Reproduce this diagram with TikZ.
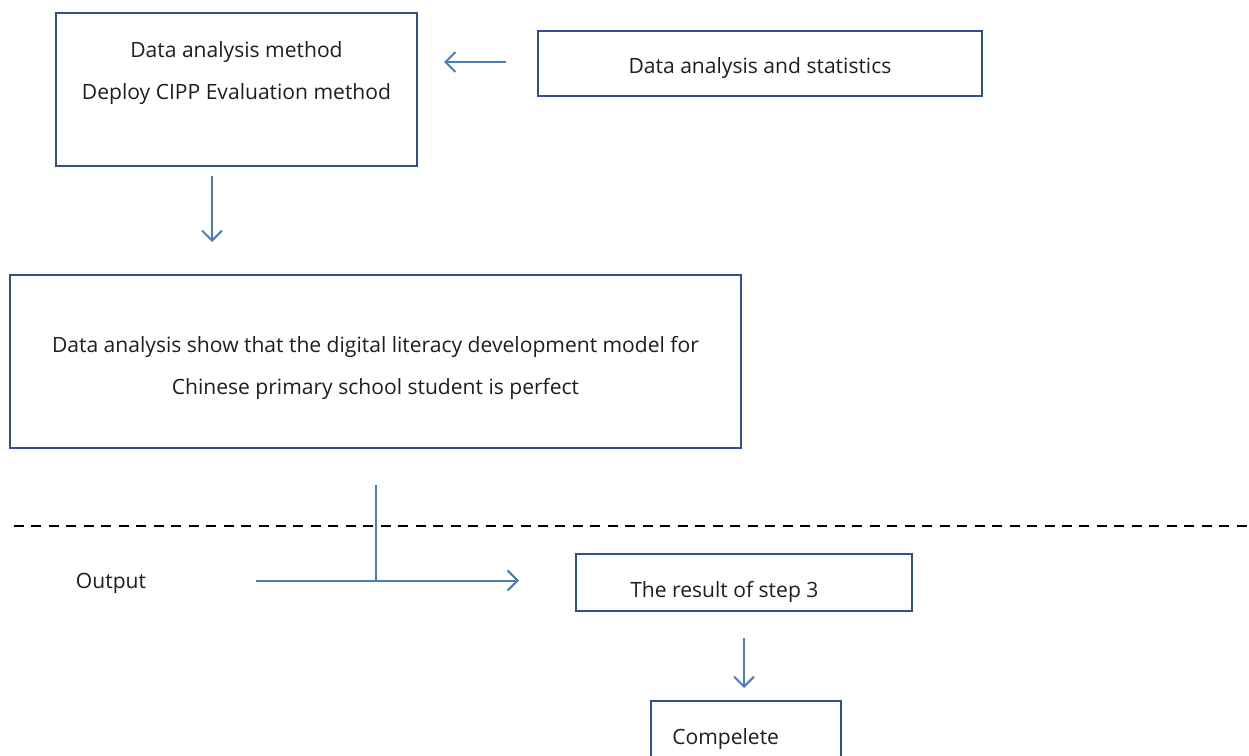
\documentclass[tikz,border=0pt]{standalone}
\usepackage{fontspec}
\setmainfont{Open Sans}
\usetikzlibrary{arrows.meta}
\newlength\pu
\setlength\pu{0.75pt}
\definecolor{boxline}{RGB}{47,82,143}
\definecolor{arrowline}{RGB}{74,126,187}
\definecolor{txt}{RGB}{30,30,30}
\tikzset{
  stepbox/.style={draw=boxline, line width=1.9pt, rectangle, inner sep=0pt},
  flow/.style={draw=arrowline, line width=1.5pt,
    -{Straight Barb[length=7.5pt,width=15pt,line width=1.5pt]}},
  plainflow/.style={draw=arrowline, line width=1.5pt},
  lbl/.style={text=txt, font=\fontsize{15.8pt}{31.5pt}\selectfont, inner sep=0pt}
}
\begin{document}
\begin{tikzpicture}[x=\pu,y=-\pu]
\useasboundingbox (0,0) rectangle (1249,756);
\clip (0,0) rectangle (1249,756);

% method box
\node[stepbox, minimum width=361\pu, minimum height=153\pu] (method) at (236.5,89.5) {};
\node[lbl, align=center] (methodtxt) at (236.5,73.5) {Data analysis method\\Deploy CIPP Evaluation method};

% statistics box
\node[stepbox, minimum width=444\pu, minimum height=65\pu] (stats) at (760,63.5) {};
\node[lbl] (statstxt) at (760,68.5) {Data analysis and statistics};

% analysis outcome box
\node[stepbox, minimum width=731\pu, minimum height=173\pu] (show) at (375.5,361.5) {};
\node[lbl, align=center] (showtxt) at (375.5,367.5) {Data analysis show that the digital literacy development model for\\Chinese primary school student is perfect};

% step 3 result box
\node[stepbox, minimum width=336\pu, minimum height=57\pu] (step) at (744,582.5) {};
\node[lbl, anchor=west] (steptxt) at (630,592) {The result of step 3};

% completion box
\node[stepbox, minimum width=190\pu, minimum height=74\pu] (done) at (746,738) {};
\node[lbl, anchor=west] (donetxt) at (672,739.5) {Compelete};

% output label
\node[lbl] (out) at (111,583.5) {Output};

% separator
\coordinate (sepL) at (14,526);
\coordinate (sepR) at (1249,526);
\draw[black, line width=1.8pt, dash pattern=on 7.5pt off 5.6pt] (sepL) -- (sepR);

% connectors
\coordinate (statsArrowStart) at (506,62);
\coordinate (statsArrowEnd) at (444,62);
\draw[flow] (statsArrowStart) -- (statsArrowEnd);

\coordinate (downA1) at (212,176);
\coordinate (downA2) at (212,242);
\draw[flow] (downA1) -- (downA2);

\coordinate (outStart) at (256,580.5);
\coordinate (outEnd) at (519,580.5);
\coordinate (joinTop) at (376,485);
\coordinate (joinBot) at (376,580.5);
\draw[flow] (outStart) -- (outEnd);
\draw[plainflow] (joinTop) -- (joinBot);

\coordinate (downB1) at (744,638);
\coordinate (downB2) at (744,688);
\draw[flow] (downB1) -- (downB2);
\end{tikzpicture}
\end{document}
